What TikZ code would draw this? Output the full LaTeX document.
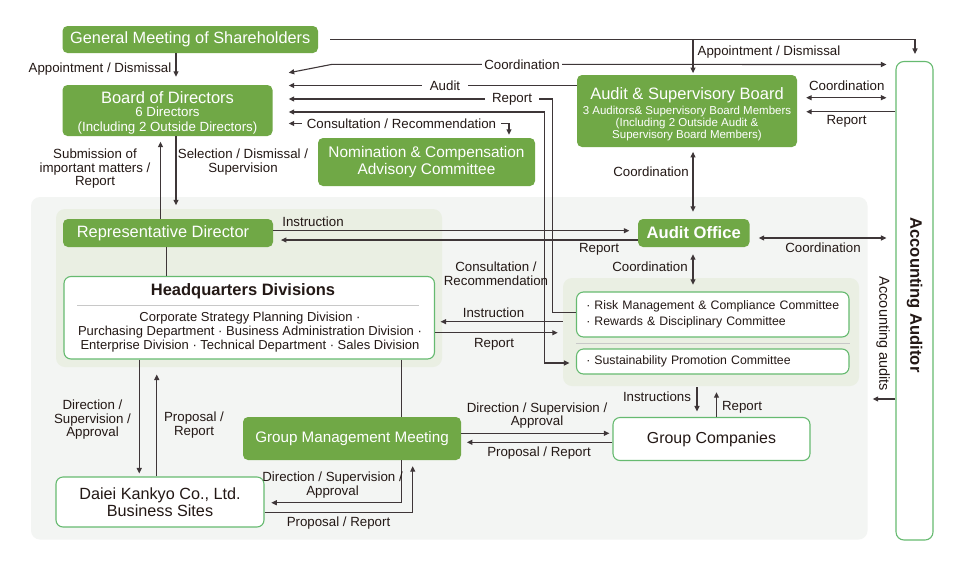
\documentclass[tikz,border=0pt]{standalone}
\usepackage{fontspec}
\setmainfont{Liberation Sans}
\usetikzlibrary{calc,arrows.meta}
\definecolor{gfill}{RGB}{112,168,70}
\definecolor{gline}{RGB}{102,186,112}
\definecolor{bgcol}{RGB}{243,245,243}
\definecolor{incol}{RGB}{234,239,227}
\definecolor{lcol}{RGB}{62,54,56}
\definecolor{tcol}{RGB}{35,24,21}
\definecolor{sepcol}{RGB}{200,200,200}
\newcommand\myfs[2]{\fontsize{#1}{#2}\selectfont}
\begin{document}
\begin{tikzpicture}[x=1pt,y=-1pt,
 >={Triangle[length=5.5pt,width=5pt]},
 gbox/.style={fill=gfill,rounded corners=5pt,text=white,align=center,inner sep=0pt},
 gtext/.style={text=white,align=center,inner sep=0pt},
 wbox/.style={draw=gline,line width=1.1pt,fill=white,rounded corners=7pt,align=center,inner sep=0pt,text=tcol},
 region/.style={rounded corners=9pt,inner sep=0pt},
 lbl/.style={text=tcol,align=center,inner sep=0pt,font=\myfs{13.3}{13.5}},
 wlbl/.style={lbl,fill=white,inner ysep=2pt},
 con/.style={draw=lcol,line width=1.1pt},
 arr/.style={con,->},
 darr/.style={con,<->}]
\useasboundingbox (0,0) rectangle (960,565);
\fill[white] (0,0) rectangle (960,565);
% regions
\node[region,fill=bgcol,minimum width=836.5pt,minimum height=342.5pt] (bigreg) at (449.25,368.25) {};
\node[region,fill=incol,minimum width=386pt,minimum height=158pt] (inreg) at (249,288) {};
\node[region,fill=incol,minimum width=296pt,minimum height=108pt] (comreg) at (711,332) {};
% boxes
\node[gbox,minimum width=255.5pt,minimum height=27pt,font=\myfs{16.3}{17}] (gm) at (190.25,39.5) {General Meeting of Shareholders};
\node[gbox,minimum width=210pt,minimum height=51pt] (bod) at (167.5,110.5) {};
\node[gtext,font=\myfs{13.3}{14.5}] (bodt) at ($(bod.center)+(0,2.5)$) {{\myfs{16.5}{17}Board of Directors}\\[-1.5pt]6 Directors\\(Including 2 Outside Directors)};
\node[gbox,minimum width=217pt,minimum height=48pt,font=\myfs{15.4}{16.3}] (ncac) at (426.5,162) {Nomination \& Compensation\\Advisory Committee};
\node[gbox,minimum width=220pt,minimum height=72pt] (asb) at (687,111) {};
\node[gtext,font=\myfs{11.5}{11.9}] (asbt) at ($(asb.center)+(0,3.5)$) {{\myfs{16.5}{17}Audit \& Supervisory Board}\\[3pt]3 Auditors\& Supervisory Board Members\\(Including 2 Outside Audit \&\\Supervisory Board Members)};
\node[wbox,rounded corners=8pt,minimum width=37pt,minimum height=478.5pt] (aa) at (914.5,300.75) {};
\node[rotate=-90,text=tcol,inner sep=0pt,font=\bfseries\myfs{16.6}{17}] (aat) at ($(aa.center)+(0,-5.75)$) {Accounting Auditor};
\node[gbox,minimum width=210pt,minimum height=28pt] (rep) at (168,233) {};
\node[gtext,font=\myfs{16.4}{17}] (rept) at ($(rep.center)+(-5,0)$) {Representative Director};
\node[gbox,minimum width=111.5pt,minimum height=28pt,font=\bfseries\myfs{16.6}{17}] (ao) at (693.75,233) {Audit Office};
\node[wbox,minimum width=272.5pt,minimum height=45pt,text width=253pt,align=left,font=\myfs{12.3}{15.6}] (risk) at (712.75,314.5) {· Risk Management \& Compliance Committee\\· Rewards \& Disciplinary Committee};
\node[wbox,minimum width=272.5pt,minimum height=25pt,text width=253pt,align=left,font=\myfs{12.3}{15.6}] (sust) at (712.75,361.5) {· Sustainability Promotion Committee};
\draw[sepcol,line width=0.8pt] ($(risk.south west)+(0,6)$) -- ($(risk.south east)+(0,6)$);
\node[wbox,minimum width=370.5pt,minimum height=82.5pt] (hq) at (249.25,317.75) {};
\node[text=tcol,inner sep=0pt,font=\bfseries\myfs{16.5}{17}] (hqt) at (243,291.7) {Headquarters Divisions};
\draw[sepcol,line width=0.8pt] ($(hq.west)+(13.7,-12.45)$) -- ($(hq.east)+(-16.5,-12.45)$);
\node[text=tcol,inner sep=0pt,align=center,font=\myfs{13}{13.8}] (hqb) at (250,332) {Corporate Strategy Planning Division ·\\Purchasing Department · Business Administration Division ·\\Enterprise Division · Technical Department · Sales Division};
\node[gbox,minimum width=218pt,minimum height=43pt,font=\myfs{15.2}{16}] (gmm) at (352,438.5) {Group Management Meeting};
\node[wbox,minimum width=197pt,minimum height=43pt,font=\myfs{15.9}{16}] (gc) at (711.5,439) {Group Companies};
\node[wbox,minimum width=208pt,minimum height=50pt,font=\myfs{16.2}{16.6}] (dk) at (160,502) {Daiei Kankyo Co., Ltd.\\Business Sites};
% connectors
\draw[arr] ($(gm.south)+(-14.25,0)$) -- ($(bod.north)+(8.5,-8)$);
\draw[arr] ($(gm.east)+(12,0)$) -| ($(aa.north)+(0.5,-7)$);
\draw[arr] ($(asb.north)+(6,-35.5)$) -- ($(asb.north)+(6,-1.7)$);
\draw[darr] ($(bod.north east)+(16,-12)$) -- ($(bod.north east)+(59.5,-20.5)$) -- ($(aa.west)+(-9,-236.25)$);
\draw[arr] ($(asb.west)+(0,-25.5)$) -- ($(bod.east)+(16,-25)$);
\draw[arr] ($(risk.west)+(0,-2)$) -- ($(risk.west)+(-23.5,-2)$) |- ($(bod.east)+(16,-11.5)$);
\draw[darr] ($(bod.east)+(16,1.5)$) -- ($(bod.east)+(272,1.5)$) |- ($(sust.west)+(-6.5,1.5)$);
\draw[darr] ($(bod.east)+(16,13)$) -| ($(ncac.north)+(82.5,-3)$);
\draw[arr] ($(bod.south)+(8.5,0)$) -- ($(inreg.north)+(-73,-3.5)$);
\draw[arr] ($(rep.north)+(-7.5,0)$) -- ($(bod.south)+(-7,5.5)$);
\draw[con] ($(rep.south)+(-1.5,0)$) -- ($(hq.north)+(-82.75,0)$);
\draw[arr] ($(rep.east)+(0,-2.3)$) -- ($(ao.west)+(-8.5,-2.3)$);
\draw[arr] ($(ao.west)+(0,7)$) -- ($(rep.east)+(7.7,7)$);
\draw[darr] ($(asb.south)+(6,4.7)$) -- ($(ao.north)+(-0.75,-7)$);
\draw[darr] ($(ao.east)+(9,5)$) -- ($(aa.west)+(-9,-62.75)$);
\draw[darr] ($(asb.east)+(9,-13.3)$) -- ($(aa.west)+(-9,-203.05)$);
\draw[arr] ($(aa.west)+(0,-189)$) -- ($(asb.east)+(9,0.75)$);
\draw[darr] ($(ao.south)+(-0.75,7)$) -- ($(comreg.north)+(-18,7)$);
\draw[arr] ($(comreg.west)+(0,-10.3)$) -- ($(hq.east)+(5.5,3.95)$);
\draw[arr] ($(hq.east)+(0,15)$) -- ($(comreg.west)+(-5,0.75)$);
\draw[arr] ($(hq.south)+(-110,0)$) -- ($(dk.north)+(-20.75,-3)$);
\draw[arr] ($(dk.north)+(-3.25,0)$) -- ($(hq.south)+(-92.5,15)$);
\draw[con] ($(hq.south)+(152.5,0)$) -- ($(gmm.north)+(49.75,0)$);
\draw[arr] ($(gmm.east)+(0,-5.2)$) -- ($(gc.west)+(-3,-5.7)$);
\draw[arr] ($(gc.west)+(0,3.3)$) -- ($(gmm.east)+(5.7,3.8)$);
\draw[arr] ($(comreg.south)+(-14,1)$) -- ($(gc.north)+(-14.5,-5.5)$);
\draw[arr] ($(gc.north)+(5,0)$) -- ($(comreg.south)+(5.5,6)$);
\draw[arr] ($(gmm.south)+(49.75,0)$) |- ($(dk.east)+(6.7,0.7)$);
\draw[arr] ($(dk.east)+(0,10.7)$) -| ($(gmm.south)+(60.7,6)$);
\draw[arr] ($(aa.west)+(0,98.25)$) -- ($(bigreg.east)+(5,30.75)$);
% labels
\node[lbl] (l1) at (100,69) {Appointment / Dismissal};
\node[lbl] (l2) at (769,51.7) {Appointment / Dismissal};
\node[wlbl,inner xsep=2pt] (l3) at (522,64.5) {Coordination};
\node[wlbl,inner xsep=8pt] (l4) at (445,85.5) {Audit};
\node[wlbl,inner xsep=7pt] (l5) at (512,99) {Report};
\node[wlbl,inner xsep=5pt] (l6) at (401.5,123.5) {Consultation / Recommendation};
\node[lbl] (l7) at (95,169) {Submission of\\important matters /\\Report};
\node[lbl] (l8) at (243,162.3) {Selection / Dismissal /\\Supervision};
\node[lbl] (l9) at (846.7,85.7) {Coordination};
\node[lbl] (l10) at (846.5,121) {Report};
\node[lbl] (l11) at (651,171.7) {Coordination};
\node[lbl] (l12) at (313,221.5) {Instruction};
\node[lbl] (l13) at (599,249) {Report};
\node[lbl] (l14) at (823,248) {Coordination};
\node[lbl] (l15) at (650,267) {Coordination};
\node[lbl] (l16) at (496,273.5) {Consultation /\\Recommendation};
\node[lbl] (l17) at (493.5,313) {Instruction};
\node[lbl] (l18) at (494,344) {Report};
\node[lbl] (l19) at (92.5,420) {Direction /\\Supervision /\\Approval};
\node[lbl] (l20) at (194,425) {Proposal /\\Report};
\node[lbl] (l21) at (657,397) {Instructions};
\node[lbl] (l22) at (742,407) {Report};
\node[lbl] (l23) at (537,415.5) {Direction / Supervision /\\Approval};
\node[lbl] (l24) at (539,453) {Proposal / Report};
\node[lbl] (l25) at (332.5,485) {Direction / Supervision /\\Approval};
\node[lbl] (l26) at (338.5,522.7) {Proposal / Report};
\node[lbl,rotate=-90,font=\myfs{14.5}{15}] (l27) at (883,334) {Accounting audits};
\end{tikzpicture}
\end{document}
